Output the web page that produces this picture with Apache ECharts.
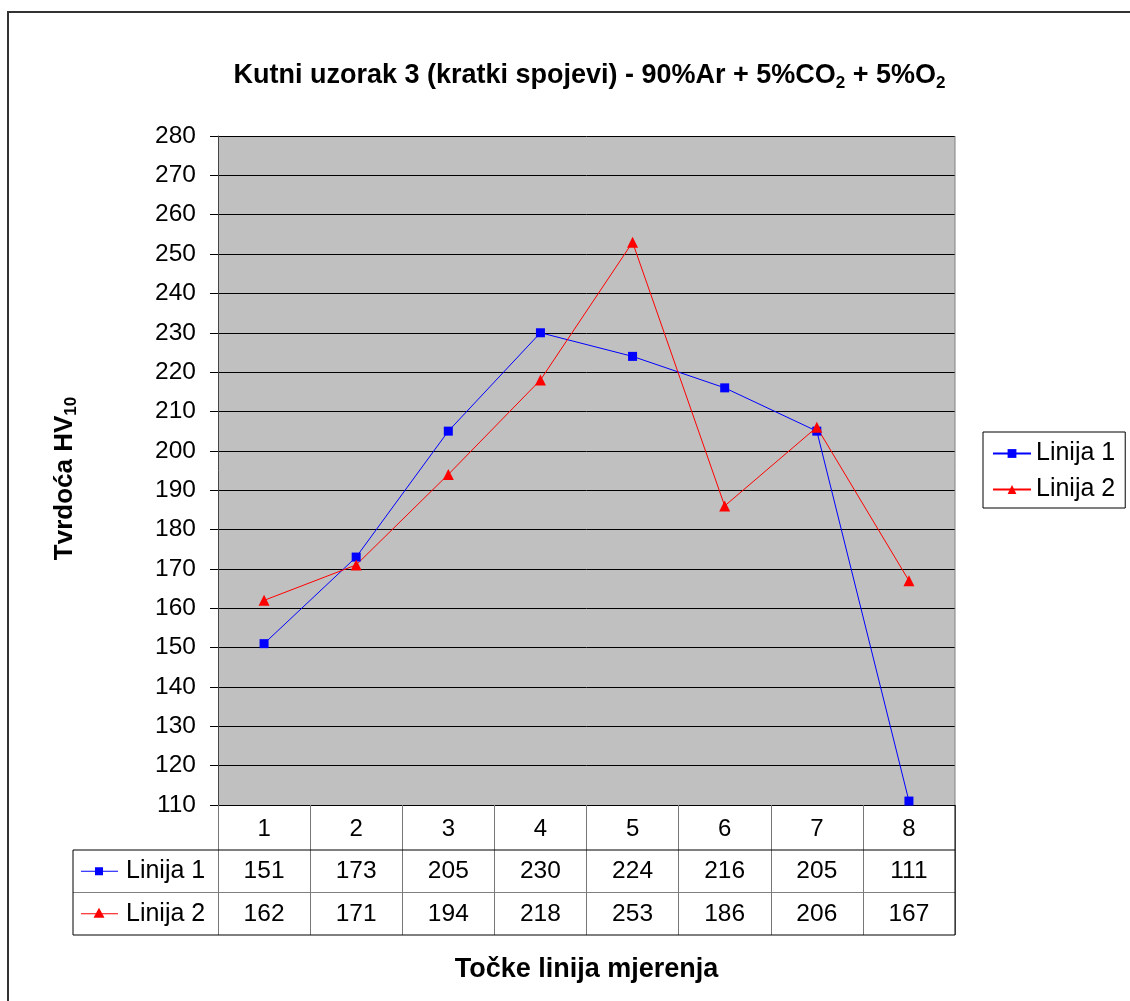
<!DOCTYPE html>
<html>
<head>
<meta charset="utf-8">
<script src="https://cdn.jsdelivr.net/npm/echarts@6/dist/echarts.min.js"></script>
<style>
  html, body { margin: 0; padding: 0; background: #ffffff; }
  #chart { width: 1130px; height: 1001px; }
</style>
</head>
<body>
<div id="chart"></div>
<script>
// Measurement points along the line
const categories = ['1', '2', '3', '4', '5', '6', '7', '8'];
// Hardness values HV10 per measuring line
const seriesNames = ['Linija 1', 'Linija 2'];
const linija1 = [151, 173, 205, 230, 224, 216, 205, 111];
const linija2 = [162, 171, 194, 218, 253, 186, 206, 167];
// Value axis range
const yMin = 110;
const yMax = 280;
const yStep = 10;

const FONT = '"Liberation Sans", Arial, sans-serif';
const seriesStyles = [
  { color: '#0000FF', symbol: 'rect', symbolSize: 9 },
  { color: '#FF0000', symbol: 'triangle', symbolSize: 11 }
];
const seriesData = [linija1, linija2];

// Layout of plot area and the data table under it
const G = { left: 218, top: 136, right: 955, bottom: 805 };
const tableRows = [850, 892.5, 935];
const tableLeft = 73;

const chart = echarts.init(document.getElementById('chart'), null, { renderer: 'canvas' });

const option = {
  backgroundColor: '#ffffff',
  animation: false,
  title: {
    text: '{b|Kutni uzorak 3 (kratki spojevi) - 90%Ar + 5%CO}{s|2}{b| + 5%O}{s|2}',
    left: (G.left + G.right) / 2 - 2,
    textAlign: 'center',
    top: 55,
    textStyle: {
      rich: {
        b: { fontFamily: FONT, fontWeight: 'bold', fontSize: 27, color: '#000', lineHeight: 32 },
        s: { fontFamily: FONT, fontWeight: 'bold', fontSize: 17, color: '#000', lineHeight: 27, verticalAlign: 'bottom' }
      }
    }
  },
  legend: {
    orient: 'vertical',
    left: 983,
    top: 432,
    padding: [9, 10, 6, 9],
    itemGap: 11,
    itemWidth: 38,
    itemHeight: 11,
    borderColor: '#000',
    borderWidth: 1,
    backgroundColor: '#fff',
    textStyle: { fontFamily: FONT, fontSize: 25, color: '#000' },
    data: seriesNames
  },
  grid: {
    left: G.left,
    top: G.top,
    right: 1130 - G.right,
    bottom: 1001 - G.bottom,
    show: true,
    backgroundColor: '#C0C0C0',
    borderWidth: 0
  },
  xAxis: {
    type: 'category',
    data: categories,
    boundaryGap: true,
    name: 'Točke linija mjerenja',
    nameLocation: 'middle',
    nameGap: 151,
    nameTextStyle: { fontFamily: FONT, fontWeight: 'bold', fontSize: 27, color: '#000' },
    axisLine: { show: true, lineStyle: { color: '#000', width: 1 } },
    axisTick: { show: true, inside: false, length: tableRows[2] - G.bottom, lineStyle: { color: '#777', width: 1 } },
    axisLabel: { fontFamily: FONT, fontSize: 24, color: '#000', margin: 12 },
    splitLine: { show: false }
  },
  yAxis: {
    type: 'value',
    min: yMin,
    max: yMax,
    interval: yStep,
    name: '{b|Tvrdoća HV}{s|10}',
    nameLocation: 'middle',
    nameRotate: 90,
    nameGap: 138,
    nameTextStyle: {
      padding: [0, 16, 0, 0],
      rich: {
        b: { fontFamily: FONT, fontWeight: 'bold', fontSize: 26, color: '#000', lineHeight: 30 },
        s: { fontFamily: FONT, fontWeight: 'bold', fontSize: 17, color: '#000', lineHeight: 25, verticalAlign: 'bottom' }
      }
    },
    axisLine: { show: true, lineStyle: { color: '#444', width: 1 } },
    axisTick: { show: true, inside: false, length: 8, lineStyle: { color: '#000' } },
    axisLabel: { fontFamily: FONT, fontSize: 24.5, color: '#000', margin: 22 },
    splitLine: { show: true, lineStyle: { color: '#000', width: 1 } }
  },
  series: seriesNames.map((name, i) => ({
    name: name,
    type: 'line',
    data: seriesData[i],
    color: seriesStyles[i].color,
    symbol: seriesStyles[i].symbol,
    symbolSize: seriesStyles[i].symbolSize,
    lineStyle: { width: 1, color: seriesStyles[i].color },
    itemStyle: { color: seriesStyles[i].color },
    emphasis: { disabled: true }
  }))
};

chart.setOption(option);

// Data table drawn under the plot: value cells, row labels with keys, and cell borders
function buildTable() {
  const els = [];
  const line = (x1, y1, x2, y2, color) => els.push({
    type: 'line', silent: true, z: 10,
    shape: { x1, y1, x2, y2 },
    style: { stroke: color, lineWidth: 1 }
  });

  // outer frame of the chart object
  els.push({
    type: 'polyline', silent: true, z: 10,
    shape: { points: [[8, 1001], [8, 12], [1130, 12]] },
    style: { stroke: '#333', lineWidth: 2, fill: null }
  });

  // right edge of plot area
  line(G.right, G.top, G.right, G.bottom, '#808080');

  // table borders
  line(tableLeft, tableRows[0], G.right, tableRows[0], '#000');
  line(tableLeft, tableRows[1], G.right, tableRows[1], '#808080');
  line(tableLeft, tableRows[2], G.right, tableRows[2], '#000');
  line(tableLeft, tableRows[0], tableLeft, tableRows[2], '#000');
  line(G.right, G.bottom, G.right, tableRows[2], '#000');

  const rowTops = [tableRows[0], tableRows[1]];
  const rowBottoms = [tableRows[1], tableRows[2]];
  seriesNames.forEach((name, r) => {
    const cy = (rowTops[r] + rowBottoms[r]) / 2;
    // row key: line with marker
    line(81, cy, 118, cy, seriesStyles[r].color);
    if (seriesStyles[r].symbol === 'rect') {
      els.push({ type: 'rect', silent: true, z: 11, shape: { x: 95, y: cy - 4, width: 8, height: 8 }, style: { fill: seriesStyles[r].color } });
    } else {
      els.push({ type: 'polygon', silent: true, z: 11, shape: { points: [[99, cy - 6], [104.5, cy + 4], [93.5, cy + 4]] }, style: { fill: seriesStyles[r].color } });
    }
    els.push({
      type: 'text', silent: true, z: 11,
      x: 126, y: cy,
      style: { text: name, font: '25px ' + FONT, fill: '#000', verticalAlign: 'middle', align: 'left' }
    });
    // values
    seriesData[r].forEach((v, c) => {
      const px = chart.convertToPixel({ xAxisIndex: 0 }, categories[c]);
      els.push({
        type: 'text', silent: true, z: 11,
        x: px, y: cy,
        style: { text: String(v), font: '24.5px ' + FONT, fill: '#000', verticalAlign: 'middle', align: 'center' }
      });
    });
  });
  return els;
}

chart.setOption({ graphic: { elements: buildTable() } });
</script>
</body>
</html>
